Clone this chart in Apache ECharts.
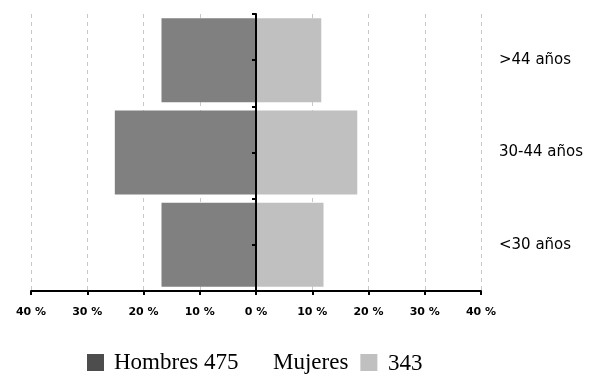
<!DOCTYPE html>
<html>
<head>
<meta charset="utf-8">
<script src="https://cdn.jsdelivr.net/npm/echarts@6/dist/echarts.min.js"></script>
<style>
    html, body { margin: 0; padding: 0; background: #fff; }
    #chart { width: 608px; height: 376px; }
</style>
</head>
<body>
<div id="chart"></div>
<script>
    // age groups, bottom to top
    var categories = ['<30 años', '30-44 años', '>44 años'];
    // share of total, percent
    var hombres = [16.8, 25.1, 16.8];
    var mujeres = [12.0, 18.0, 11.6];
    var totalHombres = 475;
    var totalMujeres = 343;

    var chart = echarts.init(document.getElementById('chart'));

    var legendText = { fontFamily: 'Liberation Serif', fontSize: 23, color: '#000' };

    var option = {
        animation: false,
        grid: {
            left: 31,
            right: 127,
            top: 14,
            bottom: 85,
            containLabel: false
        },
        legend: [
            {
                left: 87,
                top: 351,
                padding: 0,
                itemWidth: 17,
                itemHeight: 17,
                icon: 'rect',
                data: [{ name: 'Hombres', itemStyle: { color: '#4d4d4d' } }],
                formatter: function (name) {
                    return name + ' ' + totalHombres;
                },
                textStyle: Object.assign({ padding: [0, 0, 0, 5] }, legendText)
            },
            {
                left: 273,
                top: 351,
                padding: 0,
                itemWidth: 17,
                itemHeight: 17,
                align: 'right',
                icon: 'rect',
                data: [{ name: 'Mujeres', itemStyle: { color: '#c0c0c0' } }],
                textStyle: Object.assign({ padding: [0, 7, 0, 0] }, legendText)
            }
        ],
        title: {
            text: String(totalMujeres),
            left: 388,
            top: 352,
            padding: 0,
            textStyle: Object.assign({ fontWeight: 'normal' }, legendText)
        },
        xAxis: {
            type: 'value',
            min: -40,
            max: 40,
            interval: 10,
            axisLine: { show: true, lineStyle: { color: '#000', width: 2 } },
            axisTick: { show: true, length: 4, lineStyle: { color: '#000', width: 2 } },
            axisLabel: {
                margin: 16,
                fontFamily: 'DejaVu Sans',
                fontWeight: 'bold',
                fontSize: 11,
                color: '#000',
                formatter: function (v) { return Math.abs(v) + ' %'; }
            },
            splitLine: {
                show: true,
                interval: function (i, v) { return v !== 0; },
                lineStyle: { color: '#c8c8c8', type: [4, 4], width: 1 }
            }
        },
        yAxis: [
            {
                type: 'category',
                data: categories,
                position: 'left',
                z: 5,
                axisLine: { show: true, onZero: true, lineStyle: { color: '#000', width: 2 } },
                axisTick: { show: true, length: 4, lineStyle: { color: '#000', width: 2 } },
                axisLabel: { show: false },
                splitLine: { show: false }
            },
            {
                // mid-band ticks on the zero line
                type: 'category',
                data: categories,
                position: 'left',
                offset: -225,
                z: 5,
                axisLine: { show: false, onZero: false },
                axisTick: { show: true, alignWithLabel: true, length: 4, lineStyle: { color: '#000', width: 2 } },
                axisLabel: { show: false },
                splitLine: { show: false }
            },
            {
                type: 'category',
                data: categories,
                position: 'right',
                axisLine: { show: false, onZero: false },
                axisTick: { show: false },
                axisLabel: {
                    margin: 18,
                    align: 'left',
                    fontFamily: 'DejaVu Sans',
                    fontSize: 15,
                    color: '#000'
                },
                splitLine: { show: false }
            }
        ],
        series: [
            {
                name: 'Hombres',
                type: 'bar',
                yAxisIndex: 0,
                barWidth: 84,
                barGap: '-100%',
                data: hombres.map(function (v) { return -v; }),
                itemStyle: { color: '#808080' }
            },
            {
                name: 'Mujeres',
                type: 'bar',
                yAxisIndex: 0,
                barWidth: 84,
                barGap: '-100%',
                data: mujeres,
                itemStyle: { color: '#c0c0c0' }
            }
        ]
    };

    chart.setOption(option);
</script>
</body>
</html>
